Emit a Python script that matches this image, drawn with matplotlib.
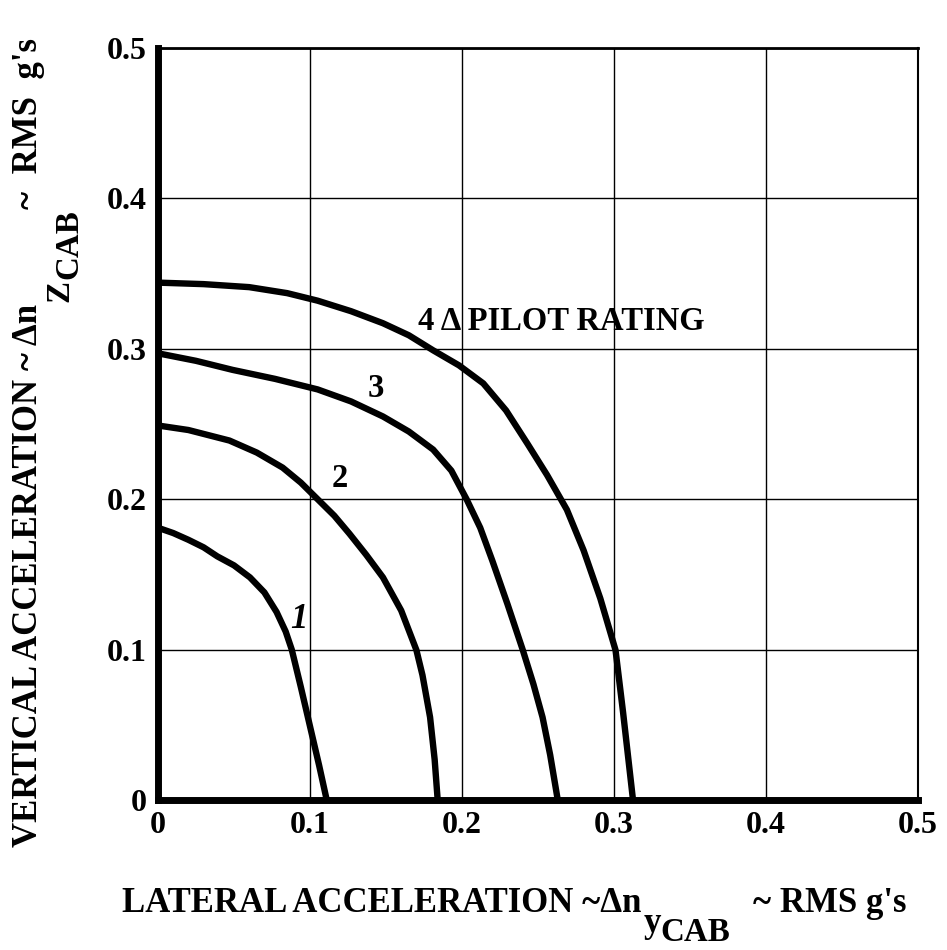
"""
pilot rating boundaries: vertical vs lateral cab acceleration
"""

import matplotlib
matplotlib.use('Agg')
import matplotlib.pyplot as plt

# curve points (RMS g's)
rating_1_x = [0.0, 0.010, 0.020, 0.030, 0.039, 0.050, 0.0605, 0.070, 0.078, 0.084, 0.088,
              0.094, 0.100, 0.106, 0.111]
rating_1_y = [0.181, 0.1775, 0.173, 0.168, 0.162, 0.156, 0.148, 0.138, 0.125, 0.112, 0.100,
              0.075, 0.049, 0.023, 0.0]

rating_2_x = [0.0, 0.020, 0.047, 0.065, 0.082, 0.094, 0.105, 0.116, 0.126, 0.137, 0.148,
              0.160, 0.170, 0.174, 0.179, 0.182, 0.184]
rating_2_y = [0.249, 0.246, 0.239, 0.231, 0.221, 0.211, 0.200, 0.189, 0.177, 0.163, 0.148,
              0.126, 0.0997, 0.083, 0.055, 0.027, 0.0]

rating_3_x = [0.0, 0.025, 0.049, 0.077, 0.105, 0.127, 0.148, 0.165, 0.181, 0.193, 0.203,
              0.212, 0.220, 0.230, 0.240, 0.247, 0.253, 0.258, 0.263]
rating_3_y = [0.297, 0.292, 0.286, 0.280, 0.273, 0.265, 0.255, 0.245, 0.233, 0.219, 0.200,
              0.181, 0.159, 0.130, 0.0997, 0.077, 0.055, 0.030, 0.0]

rating_4_x = [0.0, 0.030, 0.060, 0.085, 0.105, 0.127, 0.148, 0.165, 0.181, 0.198, 0.214,
              0.229, 0.243, 0.256, 0.269, 0.280, 0.291, 0.301, 0.306, 0.3125]
rating_4_y = [0.344, 0.343, 0.341, 0.337, 0.332, 0.325, 0.317, 0.309, 0.299, 0.289, 0.277,
              0.259, 0.237, 0.216, 0.193, 0.166, 0.134, 0.0997, 0.058, 0.0]

curve_labels = ['1', '2', '3', '4 \u0394 PILOT RATING']
label_x = [0.0928, 0.1194, 0.1431, 0.171]
label_y = [0.1144, 0.2081, 0.268, 0.3125]

tick_values = [0.0, 0.1, 0.2, 0.3, 0.4, 0.5]
tick_labels = ['0', '0.1', '0.2', '0.3', '0.4', '0.5']

FONT = ['Liberation Serif', 'DejaVu Serif']
plt.rcParams['font.family'] = FONT
plt.rcParams['font.weight'] = 'bold'

W, H = 947, 950
fig = plt.figure(figsize=(W / 100, H / 100), dpi=100)
fig.patch.set_facecolor('white')
ax = fig.add_axes([158 / W, 1 - 800 / H, 760 / W, 752 / H])

# curves
for xs, ys in [(rating_1_x, rating_1_y), (rating_2_x, rating_2_y),
               (rating_3_x, rating_3_y), (rating_4_x, rating_4_y)]:
    ax.plot(xs, ys, color='black', lw=4.6, solid_capstyle='butt',
            solid_joinstyle='round', clip_on=False, zorder=3)

for i, text in enumerate(curve_labels):
    if i == 3:
        ax.text(label_x[i], label_y[i], text, ha='left', va='baseline',
                fontsize=23.5, fontweight='bold', zorder=4)
    else:
        ax.text(label_x[i], label_y[i], text, ha='center', va='baseline',
                fontsize=25 if i == 0 else 23.5, fontweight='bold',
                style='italic' if i == 0 else 'normal', zorder=4)

ax.set_xlim(0, 0.5)
ax.set_ylim(0, 0.5)
ax.set_xticks(tick_values)
ax.set_yticks(tick_values)
ax.set_xticklabels(tick_labels)
ax.set_yticklabels(tick_labels)
ax.tick_params(length=0, labelsize=23, pad=8)
ax.tick_params(axis='x', pad=8)
ax.grid(True, color='black', lw=1.0)
ax.set_axisbelow(True)

ax.spines['left'].set_linewidth(5.0)
ax.spines['bottom'].set_linewidth(5.0)
ax.spines['top'].set_linewidth(2.0)
ax.spines['right'].set_linewidth(1.5)

LS = 25  # axis title size

# x axis title with stacked subscripts
xt1 = fig.text(122 / W, 1 - 912 / H, 'LATERAL ACCELERATION ~\u0394n',
               ha='left', va='baseline', fontsize=LS)
xt2 = ax.annotate('y', xy=(1, 0), xycoords=xt1, xytext=(2, -20),
                  textcoords='offset pixels', ha='left', va='bottom',
                  fontsize=LS, annotation_clip=False)
xt3 = ax.annotate('CAB', xy=(1, 0), xycoords=xt2, xytext=(0, -8),
                  textcoords='offset pixels', ha='left', va='bottom',
                  fontsize=LS * 0.95, annotation_clip=False)
ax.annotate('~ RMS g\'s', xy=(1, 0), xycoords=(xt3, xt1), xytext=(22, 0),
            textcoords='offset pixels', ha='left', va='bottom',
            fontsize=LS, annotation_clip=False)

# y axis title, rotated, same layout
yt1 = fig.text(37 / W, 1 - 847 / H, 'VERTICAL ACCELERATION ~ \u0394n',
               ha='left', va='baseline', rotation=90, rotation_mode='anchor',
               fontsize=LS)
yt2 = ax.annotate('Z', xy=(1, 1), xycoords=yt1, xytext=(23, 2),
                  textcoords='offset pixels', ha='left', va='baseline',
                  rotation=90, rotation_mode='anchor', fontsize=LS * 0.95,
                  annotation_clip=False)
yt3 = ax.annotate('CAB', xy=(1, 1), xycoords=yt2, xytext=(2, 1),
                  textcoords='offset pixels', ha='left', va='baseline',
                  rotation=90, rotation_mode='anchor', fontsize=LS * 0.95,
                  annotation_clip=False)
ax.annotate('~  RMS  g\'s', xy=(1, 1), xycoords=(yt1, yt3), xytext=(-8, 0),
            textcoords='offset pixels', ha='left', va='baseline',
            rotation=90, rotation_mode='anchor', fontsize=LS,
            annotation_clip=False)

fig.savefig('out.png', dpi=100, facecolor='white')
